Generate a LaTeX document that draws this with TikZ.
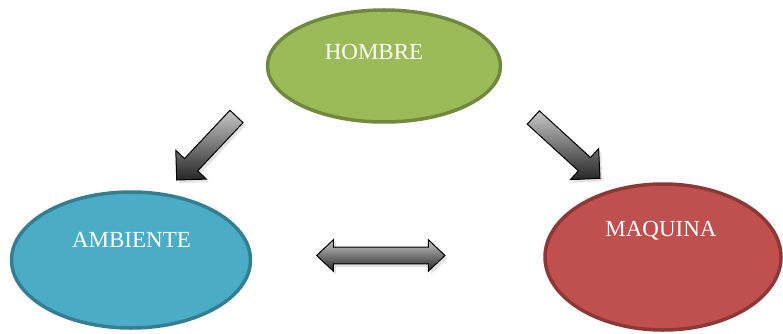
\documentclass[tikz,border=0pt]{standalone}
\usepackage{fontspec}
\setmainfont{Liberation Serif}
\usetikzlibrary{shapes.geometric,shadows,calc}
\definecolor{hfill}{HTML}{9BBB59}
\definecolor{hdraw}{HTML}{71893F}
\definecolor{afill}{HTML}{4BACC6}
\definecolor{adraw}{HTML}{357D91}
\definecolor{mfill}{HTML}{C0504D}
\definecolor{mdraw}{HTML}{8C3836}
\tikzset{
  oval/.style={ellipse, line width=3.5pt, inner sep=0pt},
  lbl/.style={text=white, font=\fontsize{23}{26}\selectfont, inner sep=0pt},
  blockarrow/.style={draw=black, line width=1pt, line join=miter,
    top color=black!22, bottom color=black!85,
    drop shadow={opacity=0.22, shadow xshift=2.5pt, shadow yshift=-3pt}}
}
% #1 tail, #2 tip, #3 shaft half width, #4 head half width, #5 head length
\newcommand{\myblockarrow}[5]{%
  \path let \p1=($(#2)!#5!(#1)$) in coordinate (hb) at (\p1);
  \draw[blockarrow]
    ($(#1)!#3!90:(#2)$) -- ($(hb)!#3!90:(#2)$) -- ($(hb)!#4!90:(#2)$) --
    (#2) -- ($(hb)!#4!-90:(#2)$) -- ($(hb)!#3!-90:(#2)$) --
    ($(#1)!#3!-90:(#2)$) -- cycle;}
\begin{document}
\begin{tikzpicture}[x=1pt,y=-1pt]
\useasboundingbox (0,0) rectangle (783,334);
\node[oval, fill=hfill, draw=hdraw, minimum width=233pt, minimum height=112pt] (hombre) at (384,66) {};
\node[oval, fill=afill, draw=adraw, minimum width=239pt, minimum height=136pt] (ambiente) at (131,260) {};
\node[oval, fill=mfill, draw=mdraw, minimum width=236pt, minimum height=146pt] (maquina) at (663,257) {};
\node[lbl] (thombre) at (374,52) {HOMBRE};
\node[lbl] (tambiente) at (131.5,240) {AMBIENTE};
\node[lbl] (tmaquina) at (661,231) {MAQUINA};
\coordinate (t1) at (236.5,116.5);
\coordinate (p1) at (176.7,180);
\coordinate (t2) at (533.3,117.5);
\coordinate (p2) at (600,178.3);
\myblockarrow{t1}{p1}{9pt}{21pt}{21pt}
\myblockarrow{t2}{p2}{9pt}{21pt}{21pt}
\coordinate (dl) at (316.7,255.5);
\coordinate (dr) at (445,255.5);
\draw[blockarrow] (dl) -- ($(dl)+(16.7,-15.8)$) -- ($(dl)+(16.7,-8.3)$) --
  ($(dr)+(-16.7,-8.3)$) -- ($(dr)+(-16.7,-15.8)$) -- (dr) --
  ($(dr)+(-16.7,15.8)$) -- ($(dr)+(-16.7,8.3)$) -- ($(dl)+(16.7,8.3)$) --
  ($(dl)+(16.7,15.8)$) -- cycle;
\end{tikzpicture}
\end{document}
